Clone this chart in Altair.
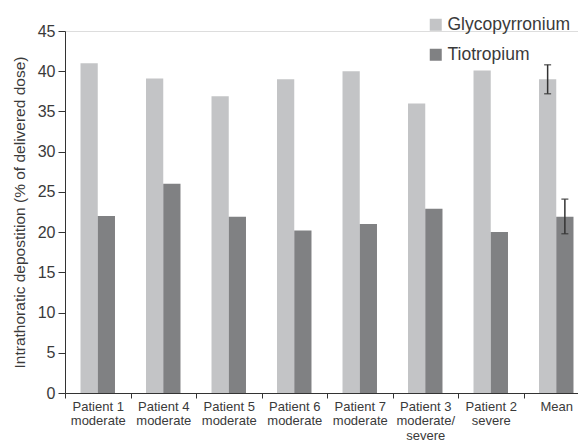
import altair as alt
import pandas as pd

categories = ["Patient 1|moderate", "Patient 4|moderate", "Patient 5|moderate",
              "Patient 6|moderate", "Patient 7|moderate", "Patient 3|moderate/|severe",
              "Patient 2|severe", "Mean"]
glyco = [41.0, 39.1, 36.9, 39.0, 40.0, 36.0, 40.1, 39.0]
tiotro = [22.0, 26.0, 21.9, 20.2, 21.0, 22.9, 20.0, 21.9]
series = ["Glycopyrronium", "Tiotropium"]
colors = ["#c3c4c6", "#808183"]

err_cat = ["Mean", "Mean"]
err_series = ["Glycopyrronium", "Tiotropium"]
err_low = [37.2, 19.8]
err_high = [40.8, 24.1]

rows = []
for c, g, t in zip(categories, glyco, tiotro):
    rows.append({"cat": c, "series": series[0], "value": g})
    rows.append({"cat": c, "series": series[1], "value": t})
df = pd.DataFrame(rows)
edf = pd.DataFrame({"cat": err_cat, "series": err_series, "lo": err_low, "hi": err_high})

FONT = "Liberation Sans"
TXT = "#3a3a3a"

xenc = alt.X("cat:N", sort=categories, title=None,
             scale=alt.Scale(paddingInner=0, paddingOuter=0),
             axis=alt.Axis(labelExpr="split(datum.label, '|')", labelAngle=0,
                           tickBand="extent", labelFontSize=13, labelColor=TXT,
                           labelFont=FONT, labelPadding=2, labelLineHeight=14.5,
                           tickSize=5, domainColor="#333", tickColor="#333",
                           labelBaseline="top"))
xoff = alt.XOffset("series:N", sort=series,
                   scale=alt.Scale(paddingInner=0, paddingOuter=0.9))

bars = alt.Chart(df).mark_bar().encode(
    x=xenc,
    xOffset=xoff,
    y=alt.Y("value:Q", title="Intrathoratic depostition (% of delivered dose)",
            scale=alt.Scale(domain=[0, 45], nice=False),
            axis=alt.Axis(values=list(range(0, 50, 5)), grid=False, tickSize=7,
                          labelFontSize=16, labelColor=TXT, labelFont=FONT,
                          labelPadding=3, titleFontSize=15.5, titleFont=FONT,
                          titleColor=TXT, titleFontWeight="normal", titlePadding=10,
                          domainColor="#333", tickColor="#333")),
    color=alt.Color("series:N", sort=series,
                    scale=alt.Scale(domain=series, range=colors),
                    legend=alt.Legend(title=None, orient="none", legendX=362, legendY=-15,
                                      symbolType="square", symbolSize=144,
                                      symbolStrokeWidth=0, labelFontSize=17.5,
                                      labelFont=FONT, labelColor=TXT, labelOffset=3,
                                      rowPadding=11, padding=0)),
)

rule = alt.Chart(edf).mark_rule(color="#333", strokeWidth=1.5).encode(
    x=alt.X("cat:N", sort=categories), xOffset=xoff,
    y="lo:Q", y2="hi:Q")
cap_lo = alt.Chart(edf).mark_tick(color="#333", thickness=1.5, size=7).encode(
    x=alt.X("cat:N", sort=categories), xOffset=xoff, y="lo:Q")
cap_hi = alt.Chart(edf).mark_tick(color="#333", thickness=1.5, size=7).encode(
    x=alt.X("cat:N", sort=categories), xOffset=xoff, y="hi:Q")

chart = alt.layer(bars, rule, cap_lo, cap_hi).properties(
    width=524, height=362,
    autosize=alt.AutoSizeParams(type="none"),
    padding={"left": 57, "top": 23, "right": -11, "bottom": 48},
).configure_view(stroke=None).configure(font=FONT)

chart.save("out.html", embed_options={"renderer": "svg", "actions": False})
